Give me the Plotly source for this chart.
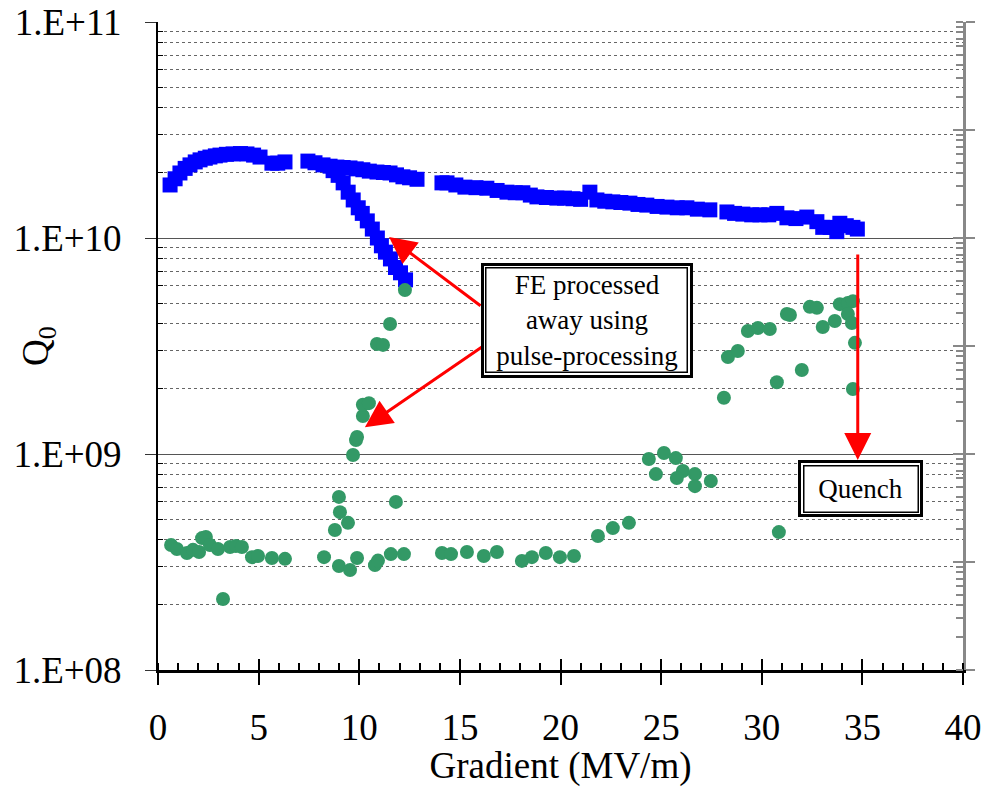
import math
import plotly.graph_objects as go

# ---------------- data ----------------
blue_x = [0.60, 0.85, 1.09, 1.35, 1.59, 1.85, 2.09, 2.35, 2.58, 2.85, 3.08, 3.40, 3.73, 4.10,
          4.42, 4.75, 5.07, 5.66, 5.95, 6.31, 7.45, 7.80, 8.20, 8.55, 8.89, 9.20, 9.54, 9.85,
          10.18, 10.50, 10.88, 11.20, 11.53, 11.85, 12.17, 12.50, 12.87, 14.11, 14.36, 14.80,
          15.25, 15.80, 16.34, 16.85, 17.34, 17.75, 18.13, 18.50, 18.83, 19.30, 19.82, 20.20,
          20.62, 21.00, 21.46, 21.81, 22.20, 22.60, 23.00, 23.45, 23.85, 24.29, 24.80, 25.29,
          25.80, 26.28, 26.80, 27.42, 28.27, 28.65, 29.06, 29.50, 29.91, 30.35, 30.75, 31.25,
          31.70, 32.24, 32.74, 33.03, 33.40, 33.73, 33.88, 34.20, 34.53, 34.75]
blue_q = [1.76e10, 1.88e10, 2.00e10, 2.10e10, 2.18e10, 2.25e10, 2.30e10, 2.34e10, 2.37e10, 2.40e10,
          2.42e10, 2.44e10, 2.45e10, 2.46e10, 2.45e10, 2.42e10, 2.37e10, 2.22e10, 2.22e10, 2.25e10,
          2.27e10, 2.23e10, 2.18e10, 2.15e10, 2.13e10, 2.12e10, 2.11e10, 2.09e10, 2.07e10, 2.04e10,
          2.02e10, 2.01e10, 2.00e10, 1.96e10, 1.92e10, 1.90e10, 1.87e10, 1.80e10, 1.80e10, 1.76e10,
          1.72e10, 1.71e10, 1.70e10, 1.66e10, 1.63e10, 1.62e10, 1.62e10, 1.58e10, 1.55e10, 1.54e10,
          1.53e10, 1.53e10, 1.52e10, 1.51e10, 1.63e10, 1.50e10, 1.48e10, 1.47e10, 1.46e10, 1.45e10,
          1.43e10, 1.42e10, 1.40e10, 1.39e10, 1.38e10, 1.38e10, 1.36e10, 1.35e10, 1.32e10, 1.30e10,
          1.29e10, 1.28e10, 1.28e10, 1.28e10, 1.30e10, 1.24e10, 1.23e10, 1.25e10, 1.19e10, 1.12e10,
          1.12e10, 1.07e10, 1.17e10, 1.14e10, 1.12e10, 1.10e10]

fe_x = [8.70, 8.95, 9.20, 9.45, 9.70, 9.95, 10.15, 10.40, 10.65, 10.90, 11.10, 11.30, 11.55,
        11.80, 12.05, 12.30]
fe_q = [2.05e10, 1.95e10, 1.80e10, 1.63e10, 1.50e10, 1.38e10, 1.30e10, 1.20e10, 1.10e10, 1.00e10,
        9.2e9, 8.6e9, 8.0e9, 7.3e9, 6.9e9, 6.4e9]

green_x = [0.65, 0.94, 1.44, 1.74, 2.04, 2.19, 2.38, 2.58, 2.98, 3.23, 3.58, 3.87, 4.17, 4.67,
           4.97, 5.66, 6.31, 8.25, 8.79, 8.99, 9.04, 9.44, 8.99, 9.54, 9.69, 9.84, 9.89, 10.18,
           10.18, 10.48, 9.89, 10.78, 10.93, 11.57, 11.82, 12.22, 10.88, 11.18, 11.53, 12.27,
           14.11, 14.56, 15.35, 16.19, 16.84, 18.08, 18.58, 19.27, 19.97, 20.67, 21.86, 22.60,
           23.40, 24.39, 25.14, 25.73, 24.74, 26.08, 25.78, 26.68, 26.68, 27.47, 30.85, 28.12,
           28.32, 28.81, 29.31, 29.81, 30.40, 30.75, 31.25, 31.40, 31.99, 32.39, 32.74, 33.03,
           33.63, 33.88, 34.28, 34.53, 34.28, 34.48, 34.63, 34.53]
green_q = [3.79e8, 3.63e8, 3.48e8, 3.60e8, 3.52e8, 4.08e8, 4.13e8, 3.79e8, 3.63e8, 2.13e8, 3.71e8,
           3.75e8, 3.71e8, 3.33e8, 3.37e8, 3.30e8, 3.27e8, 3.33e8, 4.45e8, 6.33e8, 5.38e8, 4.80e8,
           3.03e8, 2.90e8, 9.9e8, 1.16e9, 1.20e9, 1.50e9, 1.69e9, 1.72e9, 3.30e8, 3.06e8, 3.21e8,
           3.44e8, 6.0e8, 3.44e8, 3.23e9, 3.20e9, 4.0e9, 5.74e9, 3.48e8, 3.44e8, 3.52e8, 3.37e8,
           3.52e8, 3.20e8, 3.33e8, 3.48e8, 3.33e8, 3.37e8, 4.17e8, 4.54e8, 4.80e8, 9.48e8, 1.01e9,
           9.57e8, 8.07e8, 8.34e8, 7.74e8, 8.07e8, 7.10e8, 7.50e8, 4.35e8, 1.82e9, 2.81e9, 3.0e9,
           3.71e9, 3.83e9, 3.79e9, 2.15e9, 4.45e9, 4.40e9, 2.45e9, 4.80e9, 4.75e9, 3.87e9, 4.13e9,
           4.94e9, 5.0e9, 5.1e9, 4.45e9, 4.04e9, 3.27e9, 2.0e9]

x_tick_vals = [0, 5, 10, 15, 20, 25, 30, 35, 40]
y_tick_vals = [1e8, 1e9, 1e10, 1e11]
y_tick_text = ["1.E+08", "1.E+09", "1.E+10", "1.E+11"]
minor_mantissas = [2, 3, 4, 5, 6, 7, 8, 9]
y_minor_vals = [m * 10 ** e for e in (8, 9, 10) for m in minor_mantissas]

x_title = "Gradient (MV/m)"
y_title = "Q<sub>0</sub>"
box_text = "FE processed<br>away using<br>pulse-processing"
box_pos = (21.31, 4.17e9)
quench_text = "Quench"
quench_pos = (34.92, 6.89e8)
# arrows: (tip x, tip Q, tail x, tail Q)
arrows = [(11.48, 1.01e10, 16.10, 4.80e9),
          (10.28, 1.33e9, 16.24, 3.20e9),
          (34.77, 9.38e8, 34.77, 8.53e9)]

FONT = "Liberation Serif, Times New Roman, serif"
L = math.log10

fig = go.Figure()
fig.add_trace(go.Scatter(x=blue_x, y=blue_q, mode="markers",
                         marker=dict(symbol="square", size=15, color="#0000FF", line=dict(width=0)),
                         showlegend=False, hoverinfo="x+y"))
fig.add_trace(go.Scatter(x=fe_x, y=fe_q, mode="markers",
                         marker=dict(symbol="square", size=15, color="#0000FF", line=dict(width=0)),
                         showlegend=False, hoverinfo="x+y"))
fig.add_trace(go.Scatter(x=green_x, y=green_q, mode="markers",
                         marker=dict(symbol="circle", size=14, color="#339966", line=dict(width=0)),
                         showlegend=False, hoverinfo="x+y"))
# empty traces to register helper axes
fig.add_trace(go.Scatter(x=[], y=[], xaxis="x2", yaxis="y", showlegend=False, hoverinfo="skip"))
fig.add_trace(go.Scatter(x=[], y=[], xaxis="x", yaxis="y2", showlegend=False, hoverinfo="skip"))
fig.add_trace(go.Scatter(x=[], y=[], xaxis="x", yaxis="y3", showlegend=False, hoverinfo="skip"))

tickfont = dict(family=FONT, size=37, color="black")

annotations = []
for tx, tq, sx, sq in arrows:
    annotations.append(dict(x=tx, y=L(tq), ax=sx, ay=L(sq), xref="x", yref="y",
                            axref="x", ayref="y", text="", showarrow=True,
                            arrowhead=2, arrowsize=1.8, arrowwidth=3, arrowcolor="#FF0000"))

def double_box(text, pos, w, h):
    out = []
    out.append(dict(x=pos[0], y=L(pos[1]), xref="x", yref="y", text=text, showarrow=False,
                    font=dict(family=FONT, size=27, color="black"), width=w, height=h,
                    align="center", valign="middle", xanchor="center", yanchor="middle",
                    bgcolor="white", bordercolor="black", borderwidth=3, borderpad=4))
    out.append(dict(x=pos[0], y=L(pos[1]), xref="x", yref="y", text=text, showarrow=False,
                    font=dict(family=FONT, size=27, color="rgba(0,0,0,0)"), width=w, height=h,
                    align="center", valign="middle", xanchor="center", yanchor="middle",
                    bgcolor="rgba(0,0,0,0)", bordercolor="black", borderwidth=1.5, borderpad=1))
    return out

annotations += double_box(box_text, box_pos, 198, 101)
annotations += double_box(quench_text, quench_pos, 111, 43)

# y-axis title placed as a rotated annotation next to the tick labels
annotations.append(dict(text=y_title, xref="paper", yref="paper", x=-0.149, y=0.5,
                        xanchor="center", yanchor="middle", showarrow=False, textangle=-90,
                        font=dict(family=FONT, size=37, color="black")))

fig.update_layout(
    width=984, height=787, autosize=False,
    margin=dict(l=158, r=21, t=22, b=117),
    paper_bgcolor="white", plot_bgcolor="white",
    showlegend=False,
    font=dict(family=FONT, color="black"),
    xaxis=dict(range=[0, 40], tickmode="array", tickvals=x_tick_vals, automargin=False,
               ticks="outside", ticklen=12, tickwidth=2, tickcolor="black",
               showline=True, linecolor="black", linewidth=3,
               showgrid=False, zeroline=False, tickfont=tickfont, ticklabelstandoff=11,
               minor=dict(tickmode="linear", tick0=0, dtick=1, ticks="inside", ticklen=7,
                          tickwidth=2, tickcolor="black", showgrid=False),
               title=dict(text=x_title, font=dict(family=FONT, size=37, color="black"),
                          standoff=4)),
    xaxis2=dict(range=[0, 40], overlaying="x", anchor="y", side="bottom", automargin=False,
                tickmode="array", tickvals=x_tick_vals, ticks="inside", ticklen=11,
                tickwidth=2, tickcolor="black", showticklabels=False, showline=False,
                showgrid=False, zeroline=False),
    yaxis=dict(type="log", range=[8, 11], tickmode="array", tickvals=y_tick_vals, automargin=False,
               ticktext=y_tick_text, ticks="outside", ticklen=11, tickwidth=1, tickcolor="#333",
               showline=True, linecolor="black", linewidth=2,
               showgrid=True, gridcolor="#555", gridwidth=1.3, zeroline=False,
               tickfont=tickfont, ticklabelstandoff=16,
               minor=dict(tickmode="array", tickvals=y_minor_vals, ticks="inside", ticklen=5,
                          tickwidth=1, tickcolor="black", showgrid=True, gridcolor="#666",
                          gridwidth=1, griddash="dot")),
    yaxis2=dict(type="log", range=[0, 6], overlaying="y", anchor="x", side="right", automargin=False,
                tickmode="linear", tick0=0, dtick=1, ticks="outside", ticklen=9, tickwidth=2,
                tickcolor="#888", showticklabels=False, showline=True, linecolor="#888",
                linewidth=3, showgrid=False, zeroline=False,
                minor=dict(tickmode="linear", dtick="D1", ticks="inside", ticklen=7,
                           tickwidth=2, tickcolor="#888", showgrid=False)),
    yaxis3=dict(type="log", range=[0, 6], overlaying="y", anchor="x", side="right", automargin=False,
                tickmode="linear", tick0=0, dtick=1, ticks="inside", ticklen=10, tickwidth=2,
                tickcolor="#888", showticklabels=False, showline=False, showgrid=False,
                zeroline=False),
    annotations=annotations,
)

fig.write_html("out.html")
